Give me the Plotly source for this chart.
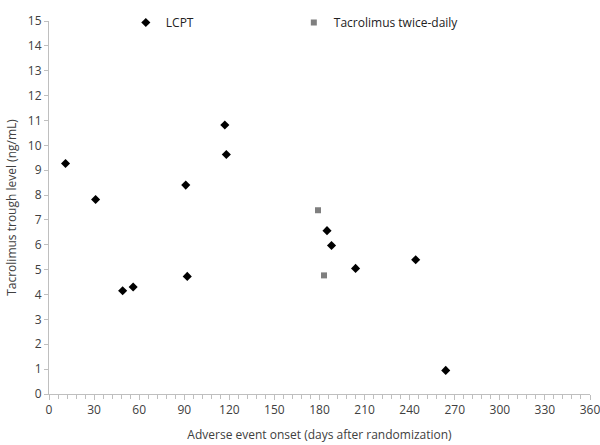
import plotly.graph_objects as go

lcpt_days = [11, 31, 91, 117, 118, 49, 56, 92, 185, 188, 204, 244, 264]
lcpt_level = [9.27, 7.82, 8.4, 10.82, 9.63, 4.15, 4.3, 4.73, 6.57, 5.97, 5.05, 5.4, 0.95]
bid_days = [179, 183]
bid_level = [7.39, 4.77]

x_ticks = list(range(0, 361, 30))
y_ticks = list(range(0, 16, 1))

font = "Open Sans, Noto Sans, sans-serif"
axis_col = "#bfbfbf"

fig = go.Figure()
fig.add_trace(go.Scatter(x=lcpt_days, y=lcpt_level, mode="markers", name="LCPT",
                         marker=dict(symbol="diamond", size=7, color="black")))
fig.add_trace(go.Scatter(x=bid_days, y=bid_level, mode="markers", name="Tacrolimus twice-daily",
                         marker=dict(symbol="square", size=6, color="#7f7f7f")))

fig.update_layout(
    width=600, height=445,
    margin=dict(l=49, r=10, t=8, b=51),
    paper_bgcolor="white", plot_bgcolor="white",
    font=dict(family=font, size=12, color="#404040"),
    showlegend=True,
    legend=dict(orientation="h", x=0.142, y=1.035, xanchor="left", yanchor="top",
                font=dict(size=12, color="#222"), itemwidth=30,
                bgcolor="rgba(0,0,0,0)", entrywidth=123),
    xaxis=dict(range=[0, 360], tickvals=x_ticks, showgrid=False, zeroline=False,
               showline=True, linecolor=axis_col, linewidth=1, automargin=False,
               ticks="outside", ticklen=5, tickcolor=axis_col,
               ticklabeloverflow="allow",
               minor=dict(dtick=6, ticks="outside", ticklen=4, tickcolor=axis_col),
               tickfont=dict(size=12, color="#404040"),
               title=dict(text="Adverse event onset (days after randomization)",
                          font=dict(size=12, color="#404040"), standoff=13)),
    yaxis=dict(range=[0, 15], tickvals=y_ticks, showgrid=False, zeroline=False,
               showline=True, linecolor=axis_col, linewidth=1, automargin=False,
               ticks="outside", ticklen=4, tickcolor=axis_col,
               ticklabeloverflow="allow",
               tickfont=dict(size=12, color="#404040"),
               title=dict(text="Tacrolimus trough level (ng/mL)",
                          font=dict(size=12, color="#404040"), standoff=8)),
)

fig.write_html("out.html", config={"displayModeBar": False},
               post_script="document.body.style.margin='0';document.body.style.overflow='hidden';")
